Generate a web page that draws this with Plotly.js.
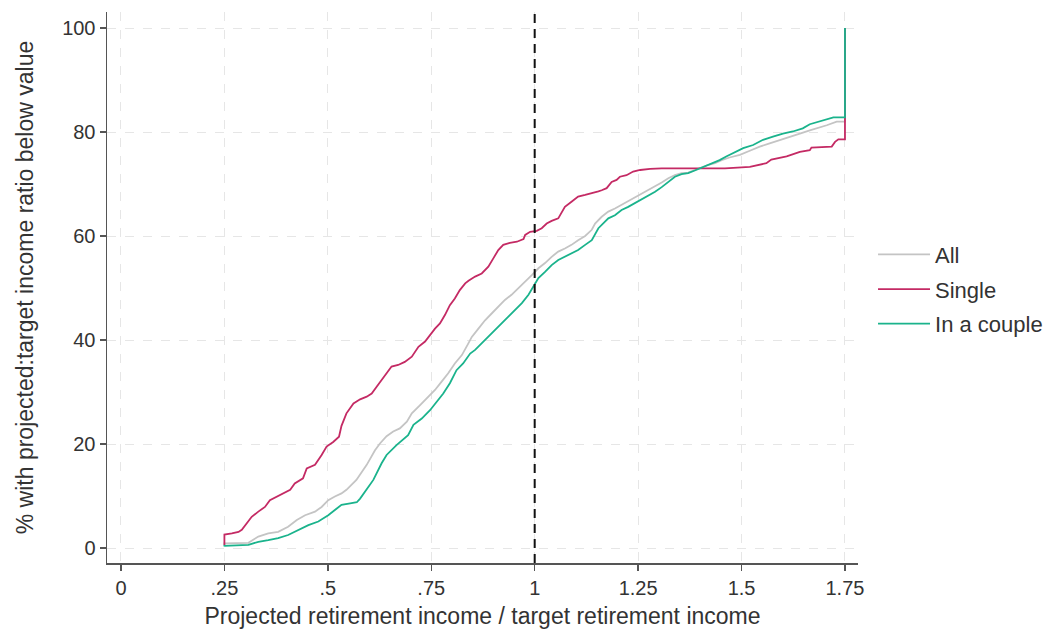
<!DOCTYPE html>
<html>
<head>
<meta charset="utf-8">
<script src="https://cdn.plot.ly/plotly-3.0.1.min.js"></script>
<style>html,body{margin:0;padding:0;background:#fff;}#chart{width:1063px;height:633px;}</style>
</head>
<body>
<div id="chart"></div>
<script>
// Tick labels
const xTickVals = [0, 0.25, 0.5, 0.75, 1, 1.25, 1.5, 1.75];
const xTickText = ["0", ".25", ".5", ".75", "1", "1.25", "1.5", "1.75"];
const yTickVals = [0, 20, 40, 60, 80, 100];

// Series: All
const allX = [0.25,0.25,0.308,0.332,0.356,0.380,0.404,0.425,0.445,0.469,0.485,0.501,0.517,0.533,0.545,0.569,0.594,0.614,0.626,0.642,0.658,0.674,0.691,0.703,0.723,0.739,0.759,0.775,0.791,0.807,0.824,0.840,0.848,0.864,0.880,0.896,0.912,0.928,0.944,0.960,0.977,0.993,1.009,1.025,1.041,1.057,1.073,1.089,1.105,1.122,1.138,1.146,1.162,1.178,1.194,1.210,1.226,1.242,1.259,1.275,1.291,1.307,1.323,1.339,1.355,1.371,1.387,1.404,1.420,1.436,1.452,1.471,1.496,1.520,1.544,1.568,1.593,1.617,1.641,1.665,1.682,1.706,1.730,1.75,1.75];
const allY = [0.5,0.9,1.0,2.2,2.8,3.1,4.1,5.4,6.3,7.0,7.9,9.2,9.9,10.5,11.2,13.1,16.0,18.8,20.1,21.5,22.4,23.0,24.3,25.9,27.5,28.8,30.4,32.0,33.6,35.5,37.1,39.4,40.6,42.2,43.8,45.1,46.4,47.7,48.7,49.9,51.2,52.5,53.8,54.8,56.0,57.0,57.6,58.3,59.2,60.0,61.2,62.4,63.7,64.7,65.3,66.0,66.6,67.4,68.2,68.8,69.6,70.3,71.1,71.7,72.1,72.2,72.7,73.2,73.7,74.0,74.6,75.1,75.6,76.4,77.2,77.8,78.5,79.1,79.7,80.3,80.7,81.3,82.0,82.0,100];

// Series: Single
const singleX = [0.25,0.25,0.268,0.284,0.292,0.300,0.316,0.332,0.348,0.360,0.376,0.392,0.409,0.420,0.440,0.449,0.469,0.485,0.497,0.513,0.527,0.533,0.545,0.562,0.578,0.594,0.606,0.618,0.630,0.642,0.654,0.670,0.686,0.703,0.719,0.735,0.747,0.759,0.771,0.783,0.795,0.807,0.819,0.832,0.840,0.856,0.872,0.888,0.900,0.912,0.924,0.940,0.957,0.973,0.977,0.989,1.005,1.017,1.029,1.041,1.057,1.065,1.073,1.089,1.105,1.122,1.138,1.154,1.162,1.174,1.186,1.198,1.206,1.222,1.238,1.255,1.279,1.307,1.460,1.520,1.560,1.572,1.609,1.641,1.665,1.669,1.718,1.726,1.734,1.75,1.75];
const singleY = [0.6,2.6,2.8,3.1,3.5,4.4,6.0,7.0,7.9,9.2,9.9,10.5,11.2,12.4,13.4,15.3,16.0,17.9,19.5,20.4,21.4,23.5,25.9,27.8,28.6,29.1,29.7,31.0,32.3,33.6,34.9,35.2,35.8,36.8,38.7,39.7,41.0,42.2,43.2,44.8,46.7,48.0,49.6,50.9,51.4,52.2,52.8,54.1,55.7,57.3,58.3,58.7,58.9,59.4,60.2,60.8,61.0,61.5,62.4,62.9,63.4,64.4,65.6,66.6,67.6,67.9,68.2,68.6,68.8,69.2,70.4,70.8,71.4,71.7,72.4,72.7,72.9,73.0,73.0,73.3,74.0,74.7,75.3,76.2,76.5,77.0,77.2,78.1,78.6,78.6,100];

// Series: In a couple
const coupleX = [0.25,0.25,0.308,0.332,0.356,0.380,0.404,0.429,0.453,0.477,0.501,0.517,0.533,0.554,0.570,0.578,0.594,0.610,0.630,0.642,0.666,0.694,0.707,0.727,0.747,0.763,0.779,0.795,0.811,0.827,0.844,0.856,0.872,0.888,0.904,0.920,0.936,0.952,0.969,0.985,0.997,1.009,1.025,1.041,1.057,1.073,1.089,1.105,1.122,1.138,1.154,1.162,1.178,1.194,1.210,1.226,1.242,1.259,1.275,1.291,1.307,1.323,1.339,1.355,1.371,1.387,1.399,1.423,1.447,1.463,1.479,1.504,1.528,1.552,1.576,1.600,1.624,1.648,1.665,1.689,1.722,1.75,1.75];
const coupleY = [0.3,0.4,0.6,1.2,1.5,1.9,2.5,3.5,4.4,5.1,6.3,7.3,8.3,8.6,8.8,9.5,11.2,13.1,16.3,17.9,19.8,21.7,23.7,24.9,26.5,28.1,29.7,31.7,34.2,35.5,37.4,38.1,39.4,40.6,41.9,43.2,44.5,45.8,47.1,48.7,50.3,51.9,53.1,54.4,55.4,56.0,56.7,57.3,58.3,59.2,61.5,62.1,63.4,64.0,65.0,65.6,66.3,67.2,67.9,68.5,69.4,70.4,71.4,71.9,72.1,72.6,73.0,73.7,74.6,75.3,75.9,76.9,77.5,78.5,79.1,79.7,80.1,80.7,81.5,82.0,82.8,82.8,100];

const FONT = "Liberation Sans, Arial, sans-serif";

const traces = [
  {x: allX, y: allY, name: "All", type: "scatter", mode: "lines", line: {shape: "linear", color: "#c4c4c4", width: 1.8}, legendgroup: "a"},
  {x: singleX, y: singleY, name: "Single", type: "scatter", mode: "lines", line: {shape: "linear", color: "#c42a64", width: 1.8}, legendgroup: "b"},
  {x: coupleX, y: coupleY, name: "In a couple", type: "scatter", mode: "lines", line: {shape: "linear", color: "#1ab38c", width: 1.8}, legendgroup: "c"}
];

const layout = {
  width: 1063, height: 633,
  margin: {l: 107, r: 205, t: 12, b: 70},
  paper_bgcolor: "#ffffff", plot_bgcolor: "#ffffff",
  font: {family: FONT, size: 20, color: "#333"},
  showlegend: true,
  legend: {x: 1.02, xanchor: "left", y: 0.497, yanchor: "middle", font: {family: FONT, size: 22, color: "#333"}, itemwidth: 52, tracegroupgap: 3, bgcolor: "rgba(0,0,0,0)"},
  xaxis: {
    range: [-0.0338, 1.7815], tickvals: xTickVals, ticktext: xTickText,
    showline: true, linecolor: "#555", linewidth: 1.5, ticks: "outside", ticklen: 6, tickcolor: "#555", tickwidth: 1.5,
    showgrid: true, gridcolor: "#e6e6e6", griddash: "dash", gridwidth: 1, zeroline: false,
    tickfont: {family: FONT, size: 20, color: "#333"},
    title: {text: "Projected retirement income / target retirement income", font: {family: FONT, size: 23, color: "#333"}, standoff: 10}
  },
  yaxis: {
    range: [-2.88, 103.08], tickvals: yTickVals,
    showline: true, linecolor: "#555", linewidth: 1.5, ticks: "outside", ticklen: 6, tickcolor: "#555", tickwidth: 1.5,
    showgrid: true, gridcolor: "#e6e6e6", griddash: "dash", gridwidth: 1, zeroline: false,
    tickfont: {family: FONT, size: 20, color: "#333"},
    title: {text: "% with projected:target income ratio below value", font: {family: FONT, size: 23, color: "#333"}, standoff: 22}
  },
  shapes: [
    {type: "line", xref: "x", yref: "paper", x0: 1, x1: 1, y0: 0, y1: 1, line: {color: "#111", width: 2, dash: "9px,6px"}}
  ]
};

Plotly.newPlot("chart", traces, layout, {displayModeBar: false, staticPlot: true});
</script>
</body>
</html>
